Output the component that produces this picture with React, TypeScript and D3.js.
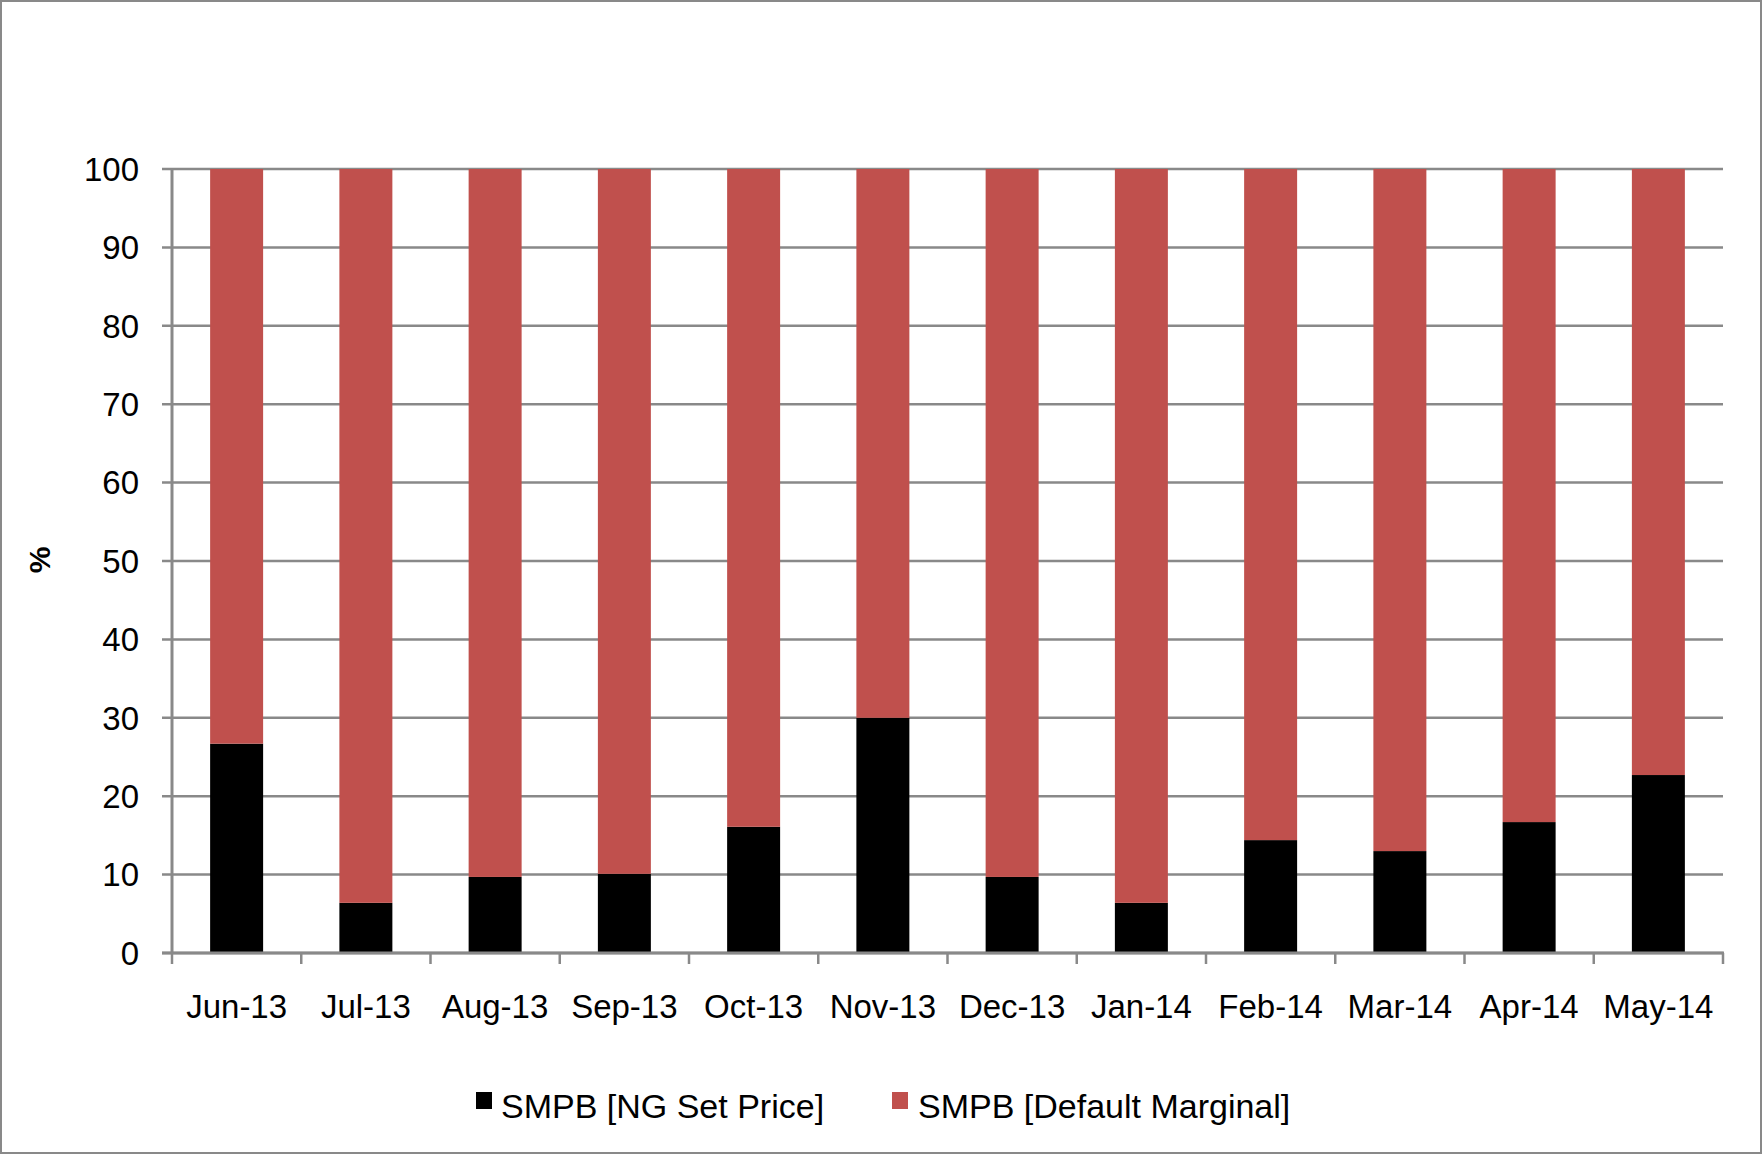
import React from "react";
import { scaleBand, scaleLinear, stack } from "d3";

// months on the x axis
const months = [
  "Jun-13", "Jul-13", "Aug-13", "Sep-13", "Oct-13", "Nov-13",
  "Dec-13", "Jan-14", "Feb-14", "Mar-14", "Apr-14", "May-14"
];
// share of SMPB set by NG price (%)
const ngSetPrice = [26.7, 6.4, 9.7, 10.1, 16.1, 30.0, 9.7, 6.4, 14.4, 13.0, 16.7, 22.7];
// share of SMPB at default marginal (%)
const defaultMarginal = [73.3, 93.6, 90.3, 89.9, 83.9, 70.0, 90.3, 93.6, 85.6, 87.0, 83.3, 77.3];
const yTicks = [0, 10, 20, 30, 40, 50, 60, 70, 80, 90, 100];
const seriesNames = ["SMPB [NG Set Price]", "SMPB [Default Marginal]"];
const colors = ["#000000", "#C0504D"];

const W = 1762;
const H = 1154;
const left = 172;
const right = 1723;
const top = 169;
const bottom = 953;
const font = "'Liberation Sans', Arial, sans-serif";
const gray = "#898989";

const App = () => {
  const x = scaleBand<string>().domain(months).range([left, right]).padding(0);
  const y = scaleLinear().domain([0, 100]).range([bottom, top]);
  const barW = x.bandwidth() * 0.41;

  const rows = months.map((m, i) => ({ month: m, ng: ngSetPrice[i], dm: defaultMarginal[i] }));
  const layers = stack<any>().keys(["ng", "dm"])(rows);

  const boundaries = months.map(m => x(m) as number).concat([right]);

  return (
    <svg
      width={W}
      height={H}
      style={{ position: "absolute", left: 0, top: 0, display: "block" }}
      fontFamily={font}
    >
      <rect x={1} y={1} width={W - 2} height={H - 2} fill="#fff" stroke={gray} strokeWidth={2} />

      {/* gridlines + y ticks */}
      {yTicks.map(t => (
        <g key={t}>
          <line x1={left - 10} x2={right} y1={y(t)} y2={y(t)} stroke={gray} strokeWidth={2.5} />
          <text x={139} y={y(t)} dy="0.36em" textAnchor="end" fontSize={33} fill="#000">
            {t}
          </text>
        </g>
      ))}

      {/* bars */}
      {layers.map((layer, li) =>
        layer.map((d, i) => (
          <rect
            key={li + "-" + i}
            x={(x(months[i]) as number) + (x.bandwidth() - barW) / 2}
            y={y(d[1])}
            width={barW}
            height={y(d[0]) - y(d[1])}
            fill={colors[li]}
          />
        ))
      )}

      {/* axes */}
      <line x1={left} x2={left} y1={top} y2={bottom + 1} stroke={gray} strokeWidth={3} />
      <line x1={left - 10} x2={right + 1} y1={bottom} y2={bottom} stroke={gray} strokeWidth={3} />
      {boundaries.map((b, i) => (
        <line key={i} x1={b} x2={b} y1={bottom} y2={bottom + 11} stroke={gray} strokeWidth={2.5} />
      ))}
      {months.map(m => (
        <text
          key={m}
          x={(x(m) as number) + x.bandwidth() / 2}
          y={1018}
          textAnchor="middle"
          fontSize={33}
          fill="#000"
        >
          {m}
        </text>
      ))}

      <text
        transform="translate(50,560) rotate(-90)"
        textAnchor="middle"
        fontSize={30}
        fontWeight="bold"
        fill="#000"
      >
        %
      </text>

      {/* legend */}
      <rect x={476} y={1092} width={16} height={17} fill={colors[0]} />
      <text x={501} y={1118} fontSize={34} fill="#000">{seriesNames[0]}</text>
      <rect x={892} y={1092} width={16} height={17} fill={colors[1]} />
      <text x={918} y={1118} fontSize={34} fill="#000">{seriesNames[1]}</text>
    </svg>
  );
};

export default App;
